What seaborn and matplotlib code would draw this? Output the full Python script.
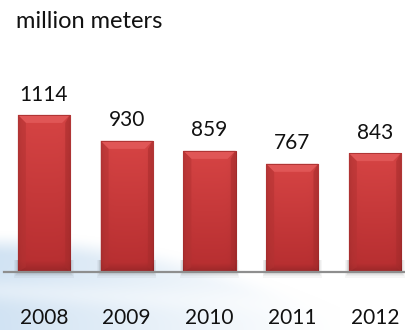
import numpy as np
import pandas as pd
import matplotlib
matplotlib.use("Agg")
import matplotlib.pyplot as plt
from matplotlib.patches import Polygon, Rectangle
import seaborn as sns

# Annual output, million meters
years = ["2008", "2009", "2010", "2011", "2012"]
output = [1114, 930, 859, 767, 843]
unit_label = "million meters"

sns.set_theme(style="white")
plt.rcParams["font.family"] = ["Lato", "DejaVu Sans"]

W, H, DPI = 405, 330, 100
fig = plt.figure(figsize=(W / DPI, H / DPI), dpi=DPI)
fig.patch.set_facecolor("white")

# soft blue swoosh in the lower-left corner of the background (pixel grid, row 0 = top)
X, Y = np.meshgrid(np.arange(W), np.arange(H))
edge = 230 + 60 * (X / 300.0) ** 2
a = np.clip((Y - edge) / 26.0, 0, 1)
a = a * a * (3 - 2 * a)
fade = np.clip(1 - X / 340.0, 0, 1) ** 1.1
streak = 0.35 * np.exp(-((Y - (290 + 15 * X / 300.0)) / 12.0) ** 2)
inten = 0.8 * a * fade * (1 - streak)
blue = np.array([198, 220, 240]) / 255.0
img = np.ones((H, W, 3)) * (1 - inten[..., None]) + blue * inten[..., None]
fig.figimage(np.clip(img, 0, 1), xo=0, yo=0, origin="upper", zorder=-5)

# main plotting area
ax_left, ax_bottom, ax_w, ax_h = 4, 58, 401, 272
ax = fig.add_axes([ax_left / W, ax_bottom / H, ax_w / W, ax_h / H], zorder=1)
ax.patch.set_visible(False)

df = pd.DataFrame({"year": years, "output": output})
sns.barplot(data=df, x="year", y="output", color="#c93b3b", saturation=1,
            width=0.63, ax=ax, zorder=2, errorbar=None)

xlim = (-0.483, 4.363)
ylim = (0, 1929)
ax.set_xlim(*xlim)
ax.set_ylim(*ylim)

px_x = ax_w / (xlim[1] - xlim[0])
px_y = ax_h / (ylim[1] - ylim[0])

for p in list(ax.patches):
    x0, y0 = p.get_x(), p.get_y()
    w, h = p.get_width(), p.get_height()
    p.set_edgecolor("#a22a2a")
    p.set_linewidth(0.8)
    # soft shadow around the bar base
    for k in range(1, 6):
        ax.add_patch(Rectangle((x0 - k * 0.7 / px_x, -k * 1.1 / px_y),
                               w + 2 * k * 0.7 / px_x, (k * 1.1 + 12) / px_y,
                               facecolor="black", alpha=0.035, lw=0,
                               zorder=1, clip_on=False))
    # vertical body gradient with darker side edges
    nr, nc = 120, 60
    t = np.linspace(0, 1, nr)[:, None]
    top_c = np.array([214, 68, 68]) / 255.0
    bot_c = np.array([182, 46, 48]) / 255.0
    grad = top_c * (1 - t[..., None]) + bot_c * t[..., None]
    grad = np.repeat(grad, nc, axis=1)
    u = np.linspace(0, 1, nc)
    side = 1 - 0.16 * (np.exp(-u / 0.05) + np.exp(-(1 - u) / 0.05))
    grad = grad * side[None, :, None]
    bot = np.clip((t - 0.93) / 0.07, 0, 1)
    grad = grad * (1 - 0.15 * bot[..., None])
    im = ax.imshow(np.clip(grad, 0, 1), extent=(x0, x0 + w, y0, y0 + h),
                   aspect="auto", zorder=2.1, interpolation="bilinear")
    im.set_clip_path(p)
    # lighter bevel on the top face
    bx, by = 8 / px_x, 8 / px_y
    top = y0 + h
    ax.add_patch(Polygon([(x0, top), (x0 + w, top), (x0 + w - bx, top - by),
                          (x0 + bx, top - by)], closed=True,
                         facecolor="#e05656", edgecolor="none", zorder=2.2))
    ax.add_patch(Polygon([(x0, top), (x0 + bx, top - by), (x0 + bx, y0 + by * 0.6),
                          (x0, y0)], closed=True, facecolor="#b23232",
                         alpha=0.5, edgecolor="none", zorder=2.2))
    ax.add_patch(Polygon([(x0 + w, top), (x0 + w - bx * 0.6, top - by),
                          (x0 + w - bx * 0.6, y0 + by * 0.6), (x0 + w, y0)],
                         closed=True, facecolor="#a82c2c", alpha=0.55,
                         edgecolor="none", zorder=2.2))
    ax.add_patch(Rectangle((x0, top - 0.8 / px_y), w, 0.8 / px_y,
                           facecolor="#b03535", lw=0, zorder=2.3))

ax.set_xlim(*xlim)
ax.set_ylim(*ylim)

# value labels above each bar
ax.bar_label(ax.containers[0], labels=[str(v) for v in output], padding=7.5,
             fontsize=15, color="#111111", zorder=4)

for s in ["top", "left", "right"]:
    ax.spines[s].set_visible(False)
ax.spines["bottom"].set_color("#8e8e8e")
ax.spines["bottom"].set_linewidth(1.6)
ax.spines["bottom"].set_zorder(3)
ax.set_yticks([])
ax.set_xlabel("")
ax.set_ylabel("")
ax.tick_params(axis="x", length=0, pad=26, labelsize=15, labelcolor="#111111")

fig.text(16 / W, 1 - 28.5 / H, unit_label, fontsize=17, color="#111111",
         ha="left", va="baseline")

fig.savefig("out.png", dpi=DPI)
